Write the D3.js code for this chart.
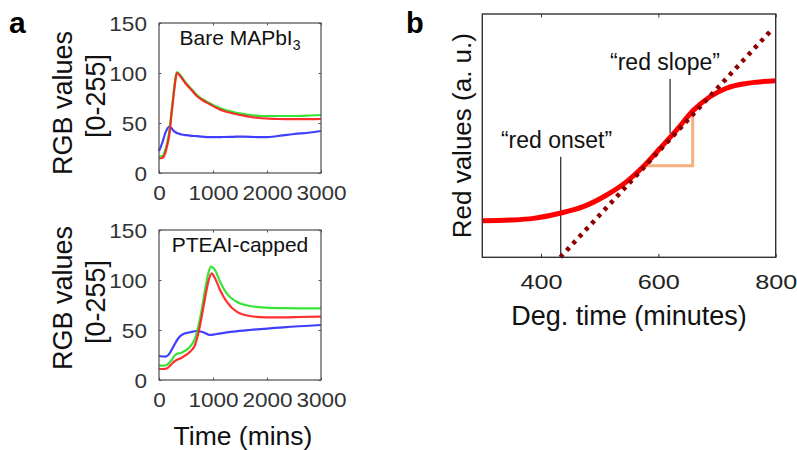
<!DOCTYPE html>
<html><head><meta charset="utf-8">
<script src="https://cdn.jsdelivr.net/npm/d3@7"></script>
<style>
html,body{margin:0;padding:0;background:#fff;}
svg{display:block;font-family:"Liberation Sans",Arial,sans-serif;}
</style></head>
<body>
<svg id="chart" width="797" height="450"></svg>
<script>
// ---------- Panel a data (time in mins, RGB values 0-255) ----------
const timeTicksA = [0, 1000, 2000, 3000];
const valueTicksA = [0, 50, 100, 150];

const bareT = [0,60,110,150,190,230,265,300,330,360,420,500,600,700,800,950,1068,1200,1377,1550,1700,1850,2000,2200,2500,2800,3000];
const bareRed   = [14.5,15,19,27,38,58,75,91,100,99,95,89,83,77,73,68.5,65,62,59.5,57.5,56,55,54.5,54,53.8,53.8,54];
const bareGreen = [16.5,17,22,30,41,60,77,93,101,100,96,90,84,78,74,69.5,66.3,63.5,61,59.2,58,57.2,57,57,57,57.5,58];
const bareBlue  = [22,30,39,44,46.5,45,42.5,41,40,39.5,38.5,37.8,37.2,36.8,36.3,35.8,35.8,36,36.2,36.4,36.2,35.8,35.8,37,39,40.5,42];

const capRedT = [0,80,142,200,250,296,327,400,450,574,667,728,790,852,913,975,1037,1130,1253,1438,1685,1994,2300,2600,3000];
const capRed  = [11,11,11.5,14,17,19,20,21.8,23.3,28.3,35,46.7,63.3,81.7,98.3,106.7,101.7,90,78.3,68.3,64,62.7,62.7,63,63.3];
const capGreenT = [0,80,142,200,235,296,327,400,450,574,667,728,790,852,913,963,1037,1130,1253,1438,1685,1994,2300,2600,3000];
const capGreen  = [14.3,14.3,15,18,20,25,26,27,28.3,33.3,41.7,53.3,70,90,106.7,113.3,110,98.3,86.7,78.3,74,72.3,71.8,71.7,71.7];
const capBlueT = [0,111,173,265,358,450,574,698,821,944,1068,1377,1685,2302,3000];
const capBlue  = [24,23.3,25,33.3,41.7,46,47.7,49,47.7,45,46,48.3,50,52.7,55];

// ---------- Panel b data (Deg. time in minutes, red values a.u.) ----------
const timeTicksB = [400, 600, 800];
const curveX = [300,347,387,432,472,512,546,574,603,631,660,688,716,751,800];
const curveY = [15,15.3,16,18.1,20.8,25.6,31.1,37.2,44.8,52.3,60.5,66,69.5,71.5,72.6];
const slopeLineX = [433, 790];
const slopeLineY = [0, 92.7];
const triangleX = [571.6, 658.5, 658.5];
const triangleY = [37.6, 37.6, 59.1];
const onsetX = 433.6, onsetTop = 41.3;
const slopeMarkX = 620, slopeMarkBottom = 51, slopeMarkTop = 73.3;

const svg = d3.select("#chart");

function zip(t, v){ return t.map((d,i)=>[d, v[i]]); }

// ---------- panel a helper ----------
function drawSmall(top, title, subscript, series){
  const left = 159, right = 321, bottom = top + 150;
  const x = d3.scaleLinear().domain([0,3000]).range([left,right]);
  const y = d3.scaleLinear().domain([0,150]).range([bottom,top]);
  const g = svg.append("g");
  const line = d3.line().x(d=>x(d[0])).y(d=>y(d[1])).curve(d3.curveMonotoneX);
  series.forEach(s=>{
    g.append("path").datum(zip(s.t,s.v)).attr("d",line)
      .attr("fill","none").attr("stroke",s.c).attr("stroke-width",2.2).attr("stroke-opacity",0.9);
  });
  const tickCol = "#555";
  const ax = d3.axisBottom(x).tickValues(timeTicksA).tickSizeInner(-2.5).tickSizeOuter(0).tickFormat(d3.format("d"));
  const axG = g.append("g").attr("transform",`translate(0,${bottom})`).call(ax);
  axG.select(".domain").remove();
  axG.selectAll("line").attr("stroke",tickCol);
  axG.selectAll("text").attr("y",27.5).attr("dy",null).attr("fill","#333")
    .style("font-size","20px").attr("transform","scale(1.13,1)");
  const axT = d3.axisTop(x).tickValues(timeTicksA).tickSizeInner(-2.5).tickSizeOuter(0).tickFormat("");
  const axTG = g.append("g").attr("transform",`translate(0,${top})`).call(axT);
  axTG.select(".domain").remove(); axTG.selectAll("line").attr("stroke",tickCol);
  const ay = d3.axisLeft(y).tickValues(valueTicksA).tickSizeInner(-2.5).tickSizeOuter(0).tickFormat(d3.format("d"));
  const ayG = g.append("g").attr("transform",`translate(${left},0)`).call(ay);
  ayG.select(".domain").remove(); ayG.selectAll("line").attr("stroke",tickCol);
  ayG.selectAll("text").attr("x",-12/1.13).attr("dy","0.36em").attr("fill","#333")
    .style("font-size","20px").attr("transform","scale(1.13,1)");
  const ayR = d3.axisRight(y).tickValues(valueTicksA).tickSizeInner(-2.5).tickSizeOuter(0).tickFormat("");
  const ayRG = g.append("g").attr("transform",`translate(${right},0)`).call(ayR);
  ayRG.select(".domain").remove(); ayRG.selectAll("line").attr("stroke",tickCol);
  g.selectAll(".tick text").attr("font-family",null);
  g.append("rect").attr("x",left).attr("y",top).attr("width",right-left).attr("height",bottom-top)
    .attr("fill","none").attr("stroke","#4d4d4d").attr("stroke-width",1.2);
  const t = g.append("text").attr("x",(left+right)/2).attr("y",top+22).attr("text-anchor","middle")
    .style("font-size","21px").attr("fill","#111");
  t.append("tspan").text(title);
  if(subscript){ t.append("tspan").text(subscript).attr("dy",5).style("font-size","14px"); }
}

drawSmall(23, "Bare MAPbI", "3", [
  {t:bareT, v:bareBlue, c:"#2a2aff"},
  {t:bareT, v:bareGreen, c:"#22e022"},
  {t:bareT, v:bareRed, c:"#ff1a1a"}
]);
drawSmall(230, "PTEAI-capped", null, [
  {t:capBlueT, v:capBlue, c:"#2a2aff"},
  {t:capGreenT, v:capGreen, c:"#22e022"},
  {t:capRedT, v:capRed, c:"#ff1a1a"}
]);

[[103,96],[298,302]].forEach(([c1,c2])=>{
  svg.append("text").attr("transform",`translate(72,${c1}) rotate(-90)`).attr("text-anchor","middle")
    .style("font-size","27px").attr("fill","#111").text("RGB values");
  svg.append("text").attr("transform",`translate(105,${c2}) rotate(-90)`).attr("text-anchor","middle")
    .style("font-size","27px").attr("fill","#111").text("[0-255]");
});
svg.append("text").attr("x",243).attr("y",445).attr("text-anchor","middle")
  .style("font-size","26.5px").attr("fill","#111").text("Time (mins)");

svg.append("text").attr("x",9).attr("y",33).style("font-size","30px").style("font-weight","bold").text("a");
svg.append("text").attr("x",406).attr("y",33).style("font-size","29px").style("font-weight","bold").text("b");

// ---------- panel b ----------
{
  const left = 482.3, right = 775.7, top = 14, bottom = 257.3;
  const x = d3.scaleLinear().domain([300,800]).range([left,right]);
  const y = d3.scaleLinear().domain([0,100]).range([bottom,top]);
  const g = svg.append("g");
  svg.append("clipPath").attr("id","clipb").append("rect")
    .attr("x",left).attr("y",top).attr("width",right-left).attr("height",bottom-top);
  const line = d3.line().x(d=>x(d[0])).y(d=>y(d[1]));
  g.append("line").attr("x1",x(onsetX)).attr("x2",x(onsetX)).attr("y1",y(0)).attr("y2",y(onsetTop))
    .attr("stroke","#333").attr("stroke-width",1.3);
  g.append("line").attr("x1",x(slopeMarkX)).attr("x2",x(slopeMarkX)).attr("y1",y(slopeMarkBottom)).attr("y2",y(slopeMarkTop))
    .attr("stroke","#333").attr("stroke-width",1.3);
  g.append("path").datum(zip(triangleX,triangleY)).attr("d",line)
    .attr("fill","none").attr("stroke","#f5b07e").attr("stroke-width",3);
  g.append("path").datum(zip(curveX,curveY)).attr("d",d3.line().x(d=>x(d[0])).y(d=>y(d[1])).curve(d3.curveMonotoneX))
    .attr("fill","none").attr("stroke","#ff0000").attr("stroke-width",5).attr("clip-path","url(#clipb)");
  g.append("path").datum(zip(slopeLineX,slopeLineY)).attr("d",line)
    .attr("fill","none").attr("stroke","#8e0000").attr("stroke-width",4.5).attr("stroke-dasharray","4 5.2");
  const ax = d3.axisBottom(x).tickValues(timeTicksB).tickSizeInner(-3.5).tickSizeOuter(0);
  const axG = g.append("g").attr("transform",`translate(0,${bottom})`).call(ax);
  axG.select(".domain").remove(); axG.selectAll("line").attr("stroke","#333");
  axG.selectAll("text").attr("y",32).attr("dy",null).attr("fill","#222").attr("font-family",null)
    .style("font-size","21px").attr("transform","scale(1.2,1)");
  const axT = d3.axisTop(x).tickValues(timeTicksB).tickSizeInner(-3.5).tickSizeOuter(0).tickFormat("");
  const axTG = g.append("g").attr("transform",`translate(0,${top})`).call(axT);
  axTG.select(".domain").remove(); axTG.selectAll("line").attr("stroke","#333");
  g.append("rect").attr("x",left).attr("y",top).attr("width",right-left).attr("height",bottom-top)
    .attr("fill","none").attr("stroke","#333").attr("stroke-width",1.4);
  g.append("text").attr("x",556.5).attr("y",148).attr("text-anchor","middle")
    .style("font-size","23px").attr("fill","#111").text("\u201Cred onset\u201D");
  g.append("text").attr("x",665).attr("y",70).attr("text-anchor","middle")
    .style("font-size","23px").attr("fill","#111").text("\u201Cred slope\u201D");
  g.append("text").attr("x",(left+right)/2).attr("y",325).attr("text-anchor","middle")
    .style("font-size","27px").attr("fill","#111").text("Deg. time (minutes)");
  g.append("text").attr("transform",`translate(471,${(top+bottom)/2}) rotate(-90)`).attr("text-anchor","middle")
    .style("font-size","26px").attr("fill","#111").text("Red values (a. u.)");
}
</script>
</body></html>
